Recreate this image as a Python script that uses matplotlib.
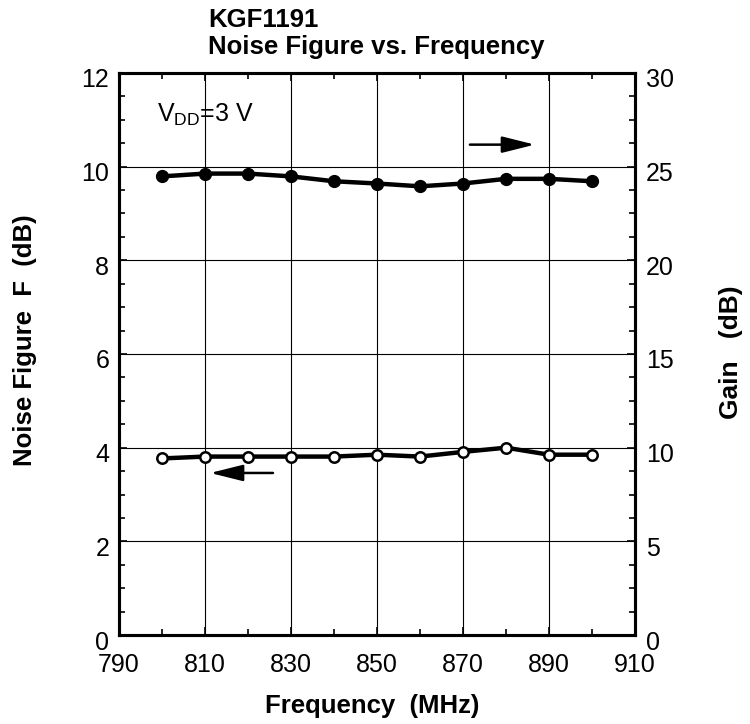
import matplotlib
matplotlib.use("Agg")
import matplotlib.pyplot as plt
import matplotlib.transforms as mtransforms
from matplotlib.ticker import MultipleLocator

plt.rcParams['font.family'] = ['Liberation Sans', 'DejaVu Sans']

# data
freq = [800, 810, 820, 830, 840, 850, 860, 870, 880, 890, 900]
noise_fig = [3.77, 3.81, 3.81, 3.81, 3.81, 3.85, 3.81, 3.91, 4.00, 3.85, 3.85]
gain = [24.48, 24.63, 24.63, 24.48, 24.22, 24.10, 23.95, 24.10, 24.35, 24.35, 24.22]
x_ticks = [790, 810, 830, 850, 870, 890, 910]

fig = plt.figure(figsize=(7.5, 7.24), dpi=100)
ax = fig.add_axes([0.1587, 0.1229, 0.688, 0.7763])
ax2 = ax.twinx()

ax.set_xlim(790, 910)
ax.set_ylim(0, 12)
ax2.set_ylim(0, 30)

ax.set_xticks(x_ticks)
ax.xaxis.set_minor_locator(MultipleLocator(10))
ax.yaxis.set_major_locator(MultipleLocator(2))
ax.yaxis.set_minor_locator(MultipleLocator(0.5))
ax2.yaxis.set_major_locator(MultipleLocator(5))
ax2.yaxis.set_minor_locator(MultipleLocator(1.25))

ax.grid(True, which='major', color='black', linewidth=0.8)

for a in (ax, ax2):
    for s in a.spines.values():
        s.set_linewidth(2.2)
ax.tick_params(which='both', direction='in', top=True, labelsize=18, width=1.2, pad=7)
ax.tick_params(axis='x', which='major', pad=13)
ax.tick_params(which='major', length=6)
ax.tick_params(which='minor', length=4)
ax2.tick_params(which='both', direction='in', labelsize=18, width=1.2, pad=8)
ax2.tick_params(which='major', length=6)
ax2.tick_params(which='minor', length=4)

# y tick labels sit a little low in the original
shift = mtransforms.ScaledTranslation(0, -5 / 100, fig.dpi_scale_trans)
for a in (ax, ax2):
    for t in a.yaxis.get_major_ticks():
        t.label1.set_transform(t.label1.get_transform() + shift)
        t.label2.set_transform(t.label2.get_transform() + shift)

# gain on right axis, filled markers
ax2.plot(freq, gain, color='black', linewidth=3.2, marker='o', markersize=8.5,
         markerfacecolor='black', zorder=5)
# noise figure on left axis, open markers
ax.plot(freq, noise_fig, color='black', linewidth=3.2, marker='o', markersize=7.5,
        markerfacecolor='white', markeredgewidth=1.8, zorder=5)

arrow = dict(arrowstyle='-|>,head_length=2.0,head_width=0.5', color='black',
             lw=1.8, mutation_scale=10, shrinkA=0, shrinkB=0)
ax.annotate('', xy=(886.7, 10.47), xytext=(871.6, 10.47), arrowprops=arrow)
ax.annotate('', xy=(811.2, 3.46), xytext=(825.8, 3.46), arrowprops=arrow)

ax.text(798.8, 11.11, r'V$_{\mathregular{DD}}$=3 V', fontsize=18, va='center')

ax.set_xlabel('Frequency  (MHz)', fontsize=18.5, fontweight='bold', va='center')
ax.xaxis.set_label_coords(0.49, -0.126)
ax.set_ylabel('Noise Figure  F  (dB)', fontsize=18.5, fontweight='bold', va='center')
ax.yaxis.set_label_coords(-0.182, 0.525)
ax2.set_ylabel('Gain   (dB)', fontsize=19, fontweight='bold', va='center')
ax2.yaxis.set_label_coords(1.186, 0.504)

fig.text(0.277, 1 - 27 / 724, 'KGF1191', fontsize=18.5, fontweight='bold',
         ha='left', va='baseline')
fig.text(0.277, 1 - 54 / 724, 'Noise Figure vs. Frequency', fontsize=18.5,
         fontweight='bold', ha='left', va='baseline')

fig.savefig('out.png', dpi=100)
